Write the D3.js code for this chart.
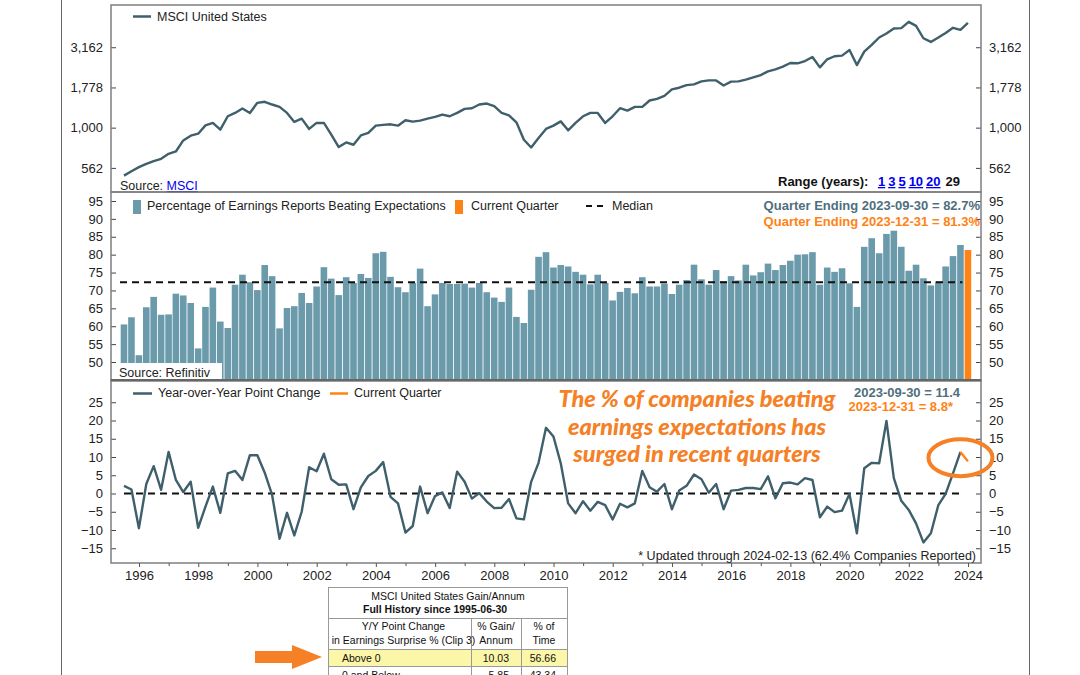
<!DOCTYPE html>
<html><head><meta charset="utf-8">
<script src="https://cdn.jsdelivr.net/npm/d3@7"></script>
<style>
body{margin:0;background:#fff;}
svg{display:block;font-family:"Liberation Sans",Arial,sans-serif;}
</style></head>
<body><svg id="c" width="1080" height="675"></svg>
<script>
// ---------------- DATA ----------------
const startQuarter = "1995-06-30"; // first quarter end, quarterly through 2023-12-31
const msciValues = [503,536,568,596,619,640,688,711,833,891,917,1033,1070,972,1177,1235,1315,1235,1427,1448,
1393,1347,1235,1086,1138,982,1070,1070,904,757,809,783,895,927,1029,1040,1049,1029,1111,1090,
1106,1138,1166,1206,1177,1235,1309,1321,1393,1413,1359,1235,1194,1079,841,753,862,982,1029,1094,
962,1070,1177,1235,1235,1070,1177,1321,1277,1347,1347,1475,1511,1578,1728,1771,1838,1857,1939,1967,
1967,1830,1932,1939,1988,2054,2123,2239,2304,2395,2523,2512,2596,2750,2371,2661,2780,2806,3041,2449,
2972,3268,3636,3852,4140,4158,4550,4295,3597,3412,3636,3883,4178,4055,4487];
const beatPct = [60.5,62.5,51.9,65.3,68.2,63.2,63.3,69.1,68.6,66.5,53.8,65.4,70.8,61.3,59.5,71.6,74.4,72.3,70.1,77.1,
74.0,59.4,65.1,65.6,69.3,66.5,71.1,76.5,73.3,68.7,73.7,72.1,74.6,73.5,80.4,80.8,73.8,70.9,69.5,72.1,
76.1,65.6,68.9,72.1,71.8,71.8,71.9,70.8,72.1,69.5,68.0,66.8,70.8,62.6,60.9,70.2,79.4,80.7,76.4,77.1,
76.7,75.2,74.4,71.7,74.4,72.1,67.2,69.6,70.7,69.2,73.7,71.1,71.1,71.9,69.0,71.6,72.9,77.2,73.1,71.6,
75.7,72.6,74.0,72.8,77.2,74.2,75.1,77.5,75.7,77.1,78.3,80.0,80.1,80.7,71.6,76.4,75.2,76.2,72.0,65.4,
82.2,84.6,80.4,85.8,86.7,82.2,75.5,77.2,73.4,71.4,72.5,76.7,79.6,82.7,81.3];
const yoyChange = [2.1,1.1,-9.5,2.6,7.5,1.0,11.4,3.7,0.4,3.2,-9.4,-3.6,1.9,-5.3,5.5,6.2,3.7,10.5,10.5,5.7,
-0.4,-12.4,-5.3,-11.5,-5.0,7.2,6.1,10.9,3.9,2.4,2.5,-4.3,1.7,4.8,6.2,8.6,-0.9,-2.7,-10.7,-8.9,
1.9,-5.4,-0.7,0.3,-4.0,6.0,3.2,-1.4,0.1,-2.2,-4.0,-3.9,-1.5,-6.8,-7.1,3.2,8.4,18.0,15.6,8.3,
-2.7,-5.4,-2.1,-4.7,-2.3,-3.2,-7.1,-2.8,-3.8,-2.7,6.2,1.7,0.5,2.6,-4.3,0.8,2.1,5.2,3.9,0.2,
2.6,-4.3,0.8,1.0,1.5,1.5,1.2,4.7,-1.3,2.8,3.0,2.5,4.2,3.7,-6.5,-3.6,-5.1,-4.7,-0.1,-10.9,
6.9,8.4,8.3,19.9,4.2,-2.0,-4.5,-8.2,-13.4,-10.9,-3.2,-0.1,5.5,11.4,8.8];
const medianBeat = 72.3;
const logTicks = [562,1000,1778,3162];
const pctTicks = [50,55,60,65,70,75,80,85,90,95];
const yoyTicks = [-15,-10,-5,0,5,10,15,20,25];
const yearTicks = [1996,1998,2000,2002,2004,2006,2008,2010,2012,2014,2016,2018,2020,2022,2024];
const rangeLinks = ["1","3","5","10","20"];
const rangeCurrent = "29";
const tableTitle = ["MSCI United States Gain/Annum","Full History since 1995-06-30"];
const tableHeader = [["Y/Y Point Change","in Earnings Surprise % (Clip 3)"],["% Gain/","Annum"],["% of","Time"]];
const tableRows = [["Above 0","10.03","56.66"],["0 and Below","5.85","43.34"]];
const annotationLines = ["The % of companies beating","earnings expectations has","surged in recent quarters"];

// ---------------- SETUP ----------------
const parse = d3.timeParse("%Y-%m-%d");
const d0 = parse(startQuarter);
const dates = beatPct.map((_, i) => d3.timeDay.offset(d3.timeMonth.offset(d3.timeDay.offset(d0,1), 3*i), -1));
const n = dates.length;
const svg = d3.select("#c");
const C = {line:"#3e5f6b", bar:"#6b9aab", orange:"#ff8214", ann:"#f58025", grid:"#7f7f7f", blue:"#0000ee"};
const FS = 12.5;
const L = 111, R = 981;
const x = d3.scaleTime().domain([new Date(1996,0,1), new Date(2024,0,1)]).range([139, 968]);
const P1 = {t:5, b:192}, P2 = {t:192, b:381}, P3 = {t:380, b:563};
const yTop = d3.scaleLog().domain([398, 5790]).range([P1.b, P1.t]);
const yMid = d3.scaleLinear().domain([50, 95]).range([362, 201]);
const yBot = d3.scaleLinear().domain([0, 25]).range([493.5, 402.25]);

// outer frame lines
svg.append("line").attr("x1",61.5).attr("x2",61.5).attr("y1",0).attr("y2",675).attr("stroke","#666").attr("stroke-width",1);
svg.append("line").attr("x1",1029.5).attr("x2",1029.5).attr("y1",0).attr("y2",675).attr("stroke","#666").attr("stroke-width",1);

function yAxes(scale, ticks, fmt, top, bottom){
  const g = svg.append("g");
  const left = g.append("g").attr("transform",`translate(${L},0)`).call(d3.axisLeft(scale).tickValues(ticks).tickFormat(fmt).tickSizeInner(-5).tickSizeOuter(0).tickPadding(8));
  const right = g.append("g").attr("transform",`translate(${R},0)`).call(d3.axisRight(scale).tickValues(ticks).tickFormat(fmt).tickSizeInner(-5).tickSizeOuter(0).tickPadding(8));
  [left,right].forEach(a=>{
    a.select(".domain").remove();
    a.selectAll("line").attr("stroke","#444");
    a.selectAll("text").attr("font-size",13).attr("fill","#222").attr("font-family","Liberation Sans, Arial, sans-serif");
  });
  g.append("rect").attr("x",L).attr("y",top).attr("width",R-L).attr("height",bottom-top).attr("fill","none").attr("stroke",C.grid).attr("stroke-width",1.5);
}

// ---------------- TOP PANEL ----------------
svg.append("path").datum(msciValues)
  .attr("d", d3.line().x((d,i)=>x(dates[i])).y(d=>yTop(d)))
  .attr("fill","none").attr("stroke",C.line).attr("stroke-width",2.4).attr("stroke-linejoin","round");
yAxes(yTop, logTicks, d3.format(","), P1.t, P1.b);
svg.append("line").attr("x1",133).attr("x2",151).attr("y1",16.5).attr("y2",16.5).attr("stroke",C.line).attr("stroke-width",2.5);
svg.append("text").attr("x",157).attr("y",21).attr("font-size",FS).attr("fill","#222").text("MSCI United States");
const src1 = svg.append("text").attr("x",120).attr("y",190).attr("font-size",12.5).attr("fill","#222");
src1.append("tspan").text("Source: ");
src1.append("tspan").attr("fill",C.blue).attr("text-decoration","underline").text("MSCI");
const rng = svg.append("text").attr("x",778).attr("y",186).attr("font-size",13).attr("font-weight","bold").attr("fill","#111");
rng.append("tspan").text("Range (years):  ");
rangeLinks.forEach((r,i)=>{ rng.append("tspan").attr("dx", i===0?6:3).attr("fill",C.blue).attr("text-decoration","underline").text(r); });
rng.append("tspan").attr("dx",5).text(rangeCurrent);

// ---------------- MIDDLE PANEL ----------------
const bw = 7.4;
svg.append("g").selectAll("rect").data(beatPct).join("rect")
  .attr("x",(d,i)=>x(dates[i])-bw/2+0.4).attr("width",bw-0.8)
  .attr("y",d=>yMid(d)).attr("height",d=>P2.b-yMid(d))
  .attr("fill",(d,i)=> i===n-1 ? C.orange : C.bar);
svg.append("line").attr("x1",x(dates[0])-4).attr("x2",x(dates[n-2])+2).attr("y1",yMid(medianBeat)).attr("y2",yMid(medianBeat))
  .attr("stroke","#111").attr("stroke-width",2).attr("stroke-dasharray","7,5");
svg.append("rect").attr("x",L).attr("y",363).attr("width",111).attr("height",18).attr("fill","#fff");
svg.append("text").attr("x",119).attr("y",377).attr("font-size",12.5).attr("fill","#222").text("Source: Refinitiv");
yAxes(yMid, pctTicks, d3.format("d"), P2.t, P2.b);
svg.append("rect").attr("x",133).attr("y",200).attr("width",8).attr("height",14).attr("fill",C.bar);
svg.append("text").attr("x",147).attr("y",210).attr("font-size",FS).attr("fill","#222").text("Percentage of Earnings Reports Beating Expectations");
svg.append("rect").attr("x",455).attr("y",200).attr("width",8).attr("height",14).attr("fill",C.orange);
svg.append("text").attr("x",471).attr("y",210).attr("font-size",FS).attr("fill","#222").text("Current Quarter");
svg.append("line").attr("x1",586).attr("x2",608).attr("y1",206).attr("y2",206).attr("stroke","#111").attr("stroke-width",2).attr("stroke-dasharray","6,5");
svg.append("text").attr("x",612).attr("y",210).attr("font-size",FS).attr("fill","#222").text("Median");
svg.append("text").attr("x",980).attr("y",210).attr("text-anchor","end").attr("font-size",13).attr("font-weight","bold").attr("fill","#4f6f7c")
  .text(`Quarter Ending 2023-09-30 = ${d3.format(".1f")(beatPct[n-2])}%`);
svg.append("text").attr("x",980).attr("y",226).attr("text-anchor","end").attr("font-size",13).attr("font-weight","bold").attr("fill",C.orange)
  .text(`Quarter Ending 2023-12-31 = ${d3.format(".1f")(beatPct[n-1])}%`);

// ---------------- BOTTOM PANEL ----------------
svg.append("line").attr("x1",x(dates[0])).attr("x2",x(dates[n-2])+2).attr("y1",yBot(0)).attr("y2",yBot(0))
  .attr("stroke","#111").attr("stroke-width",2).attr("stroke-dasharray","7,5");
const yl = d3.line().x((d,i)=>x(dates[i])).y(d=>yBot(d));
svg.append("path").datum(yoyChange.slice(0,n-1)).attr("d",yl).attr("fill","none").attr("stroke",C.line).attr("stroke-width",2.4).attr("stroke-linejoin","round");
svg.append("path").datum([[dates[n-2],yoyChange[n-2]],[dates[n-1],yoyChange[n-1]]])
  .attr("d", d3.line().x(d=>x(d[0])).y(d=>yBot(d[1]))).attr("fill","none").attr("stroke",C.orange).attr("stroke-width",2.4);
yAxes(yBot, yoyTicks, d3.format("d"), P3.t, P3.b);
svg.append("line").attr("x1",L).attr("x2",R).attr("y1",380).attr("y2",380).attr("stroke","#666").attr("stroke-width",2);
// x axis
const xa = svg.append("g").attr("transform",`translate(0,${P3.b})`)
  .call(d3.axisBottom(x).tickValues(yearTicks.map(y=>new Date(y,0,1))).tickFormat(d3.timeFormat("%Y")).tickSize(4).tickPadding(4));
xa.select(".domain").remove();
xa.selectAll("line").attr("stroke","#555");
xa.selectAll("text").attr("font-size",13).attr("fill","#222").attr("font-family","Liberation Sans, Arial, sans-serif");
const minor = svg.append("g").attr("transform",`translate(0,${P3.b})`)
  .call(d3.axisBottom(x).tickValues(yearTicks.slice(0,-1).map(y=>new Date(y+1,0,1))).tickFormat("").tickSize(3));
minor.select(".domain").remove(); minor.selectAll("line").attr("stroke","#555");
// legend
svg.append("line").attr("x1",133).attr("x2",152).attr("y1",393.5).attr("y2",393.5).attr("stroke",C.line).attr("stroke-width",2.5);
svg.append("text").attr("x",158).attr("y",397).attr("font-size",FS).attr("fill","#222").text("Year-over-Year Point Change");
svg.append("line").attr("x1",330).attr("x2",348).attr("y1",393.5).attr("y2",393.5).attr("stroke",C.orange).attr("stroke-width",2.5);
svg.append("text").attr("x",354).attr("y",397).attr("font-size",FS).attr("fill","#222").text("Current Quarter");
svg.append("text").attr("x",960).attr("y",397).attr("text-anchor","end").attr("font-size",13).attr("font-weight","bold").attr("fill","#4f6f7c")
  .text(`2023-09-30 = ${d3.format(".1f")(yoyChange[n-2])}`);
svg.append("text").attr("x",953).attr("y",411).attr("text-anchor","end").attr("font-size",13).attr("font-weight","bold").attr("fill",C.orange)
  .text(`2023-12-31 = ${d3.format(".1f")(yoyChange[n-1])}*`);
svg.append("text").attr("x",976).attr("y",560).attr("text-anchor","end").attr("font-size",FS).attr("fill","#222")
  .text("* Updated through 2024-02-13 (62.4% Companies Reported)");
// annotation
svg.append("g").selectAll("text").data(annotationLines).join("text")
  .attr("x",697).attr("y",(d,i)=>407+i*27.5).attr("text-anchor","middle")
  .attr("font-family","Lato, 'Open Sans', sans-serif").attr("font-weight","900").attr("font-style","italic")
  .attr("font-size",23.5).attr("fill",C.ann).text(d=>d);
svg.append("ellipse").attr("cx",x(dates[n-2])).attr("cy",yBot(9.8)).attr("rx",32).attr("ry",18.5)
  .attr("fill","none").attr("stroke",C.ann).attr("stroke-width",4);

// ---------------- TABLE ----------------
const T = {x:328, y:587, w:239, c1:471, c2:521};
const tg = svg.append("g").attr("font-size",10.5).attr("fill","#111");
tg.append("rect").attr("x",T.x+0.5).attr("y",649).attr("width",T.w).attr("height",17).attr("fill","#fbf6a8");
tg.append("rect").attr("x",T.x+0.5).attr("y",T.y+0.5).attr("width",T.w).attr("height",120).attr("fill","none").attr("stroke","#999");
[618.5,649.5,666.5].forEach(yy=>tg.append("line").attr("x1",T.x).attr("x2",T.x+T.w).attr("y1",yy).attr("y2",yy).attr("stroke","#999"));
[T.c1,T.c2].forEach(xx=>tg.append("line").attr("x1",xx+0.5).attr("x2",xx+0.5).attr("y1",618).attr("y2",675).attr("stroke","#999"));
tg.append("text").attr("x",448).attr("y",600).attr("text-anchor","middle").text(tableTitle[0]);
tg.append("text").attr("x",363).attr("y",613).attr("font-weight","bold").text(tableTitle[1]);
const colC = [(T.x+T.c1)/2, (T.c1+T.c2)/2, (T.c2+T.x+T.w)/2];
tableHeader.forEach((h,j)=>h.forEach((t,k)=>tg.append("text").attr("x",colC[j]+(j===0?4:0)).attr("y",630+k*14).attr("text-anchor","middle").text(t)));
tableRows.forEach((r,i)=>{
  const yy = 662+i*17;
  tg.append("text").attr("x",342).attr("y",yy).text(r[0]);
  tg.append("text").attr("x",509).attr("y",yy).attr("text-anchor","end").text(r[1]);
  tg.append("text").attr("x",556).attr("y",yy).attr("text-anchor","end").text(r[2]);
});
// arrow
svg.append("path").attr("d", d3.line()([[255,651],[292,651],[292,645],[322,657],[292,669],[292,663],[255,663]])+"Z").attr("fill",C.ann);
</script></body></html>
